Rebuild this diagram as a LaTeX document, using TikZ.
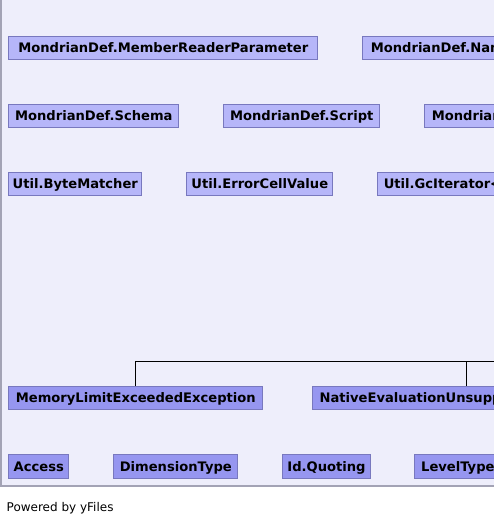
\documentclass[tikz,border=0pt]{standalone}
\usepackage{fontspec}
\setmainfont{DejaVu Sans}
\definecolor{bgc}{HTML}{EEEEFB}
\definecolor{panelb}{HTML}{A3A3B5}
\definecolor{lightn}{HTML}{B6B6F9}
\definecolor{darkn}{HTML}{9696F0}
\definecolor{nbord}{HTML}{7878BE}
\begin{document}
\begin{tikzpicture}[x=1pt,y=-1pt,
  cls/.style={draw=nbord, line width=1pt, font=\fontsize{13.1}{15}\selectfont\bfseries,
    inner xsep=0pt, inner ysep=0pt, text height=12pt, text depth=2.45pt,
    minimum height=23pt, anchor=west, text=black},
  lt/.style={cls, fill=lightn},
  dk/.style={cls, fill=darkn},
  open/.style={inner xsep=8pt},
  edge/.style={draw=black, line width=1pt}]
\useasboundingbox (0,0) rectangle (494,522);
\fill[white] (0,0) rectangle (494,522);
\fill[bgc] (0,0) rectangle (494,486);
\draw[panelb, line width=1.5pt] (0.75,0) -- (0.75,486) -- (494,486);
\begin{scope}
\clip (1.5,0) rectangle (494,485.2);
% row 1
\node[lt, minimum width=309pt] (mrp) at (8.3,47.8) {MondrianDef.MemberReaderParameter};
\node[lt, open] (nam) at (362.3,47.8) {MondrianDef.NamedSet};
% row 2
\node[lt, minimum width=170pt] (sch) at (8.3,115.8) {MondrianDef.Schema};
\node[lt, minimum width=156pt] (scr) at (223.3,115.8) {MondrianDef.Script};
\node[lt, inner xsep=7pt] (sql) at (424.3,115.8) {MondrianDef.SQL};
% row 3
\node[lt, minimum width=133pt] (byt) at (8.3,183.8) {Util.ByteMatcher};
\node[lt, minimum width=146pt] (err) at (186.3,183.8) {Util.ErrorCellValue};
\node[lt, inner xsep=6pt] (gci) at (377.3,183.8) {Util.GcIterator<T>};
% row 4
\node[dk, minimum width=254pt] (mle) at (8.3,398) {MemoryLimitExceededException};
\node[dk, minimum width=308pt] (nat) at (312.3,398) {NativeEvaluationUnsupportedException};
% row 5
\node[dk, minimum width=60pt, minimum height=24pt] (acc) at (8.3,466.3) {Access};
\node[dk, minimum width=124pt, minimum height=24pt] (dim) at (113.3,466.3) {DimensionType};
\node[dk, minimum width=87.4pt, minimum height=24pt] (idq) at (282.3,466.3) {Id.Quoting};
\node[dk, inner xsep=6.4pt, minimum height=24pt] (lev) at (414.3,466.3) {LevelType};
% connectors
\coordinate (ce) at (500,361.5);
\draw[edge] (mle.north) |- (ce);
\draw[edge] (nat.north) |- (ce);
\end{scope}
\node[anchor=base west, inner sep=0pt, font=\fontsize{12}{14}\selectfont] (pw) at (6.5,511) {Powered by yFiles};
\end{tikzpicture}
\end{document}
